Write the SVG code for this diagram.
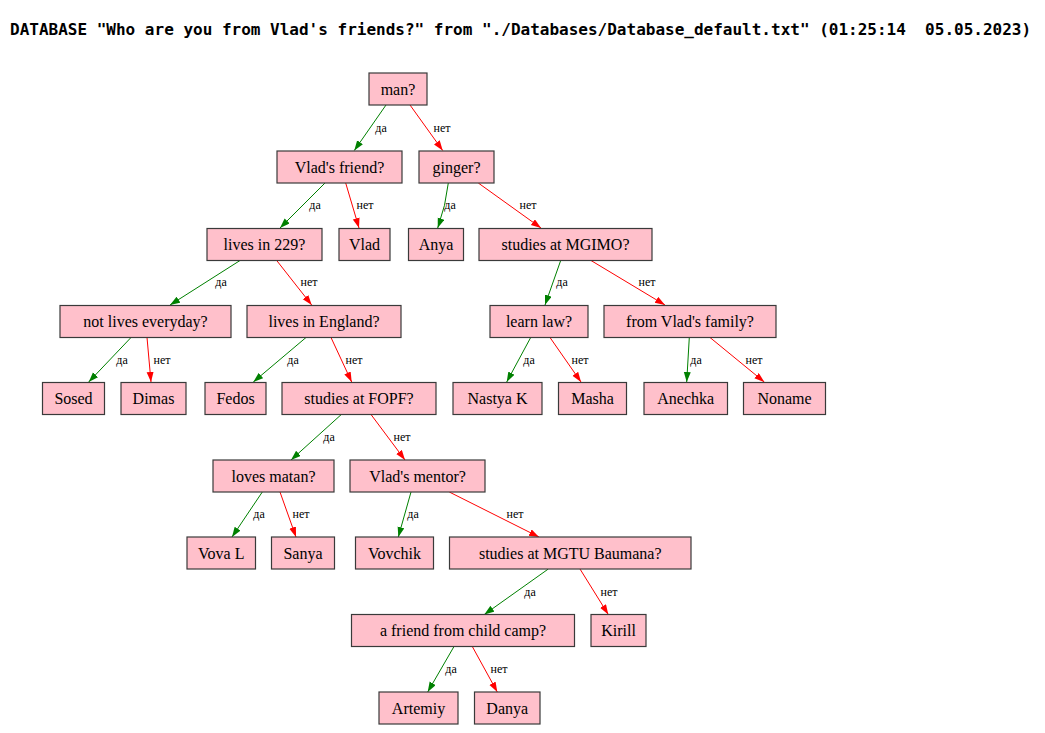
<svg xmlns="http://www.w3.org/2000/svg" width="1045" height="733" viewBox="0 0 1045 733">
<style>
.title{font-family:"DejaVu Sans Mono",monospace;font-weight:bold;font-size:16px;fill:#000}
.node rect{fill:#ffc0cb;stroke:#3a3a3a;stroke-width:1.2}
.node text{font-family:"Liberation Serif","Times New Roman",serif;font-size:16px;fill:#000;text-anchor:middle}
.yes{stroke:#008000;fill:none;stroke-width:1;marker-end:url(#ag)}
.no{stroke:#ff0000;fill:none;stroke-width:1;marker-end:url(#ar)}
.lbl{font-family:"Liberation Serif","Times New Roman",serif;font-size:12px;fill:#000;text-anchor:middle}
</style>
<defs>
<marker id="ag" markerUnits="userSpaceOnUse" markerWidth="10" markerHeight="8" refX="10" refY="3.5" orient="auto"><path d="M0,0 L10,3.5 L0,7 z" fill="#008000"/></marker>
<marker id="ar" markerUnits="userSpaceOnUse" markerWidth="10" markerHeight="8" refX="10" refY="3.5" orient="auto"><path d="M0,0 L10,3.5 L0,7 z" fill="#ff0000"/></marker>
</defs>
<rect width="1045" height="733" fill="#fff"/>
<text class="title" x="10" y="35" xml:space="preserve">DATABASE "Who are you from Vlad's friends?" from "./Databases/Database_default.txt" (01:25:14  05.05.2023)</text>

<g id="edges">
<path class="yes" d="M386,105 L354.3,150.5"/><text class="lbl" x="381" y="131.5">да</text>
<path class="no" d="M410,105 L442.7,150.5"/><text class="lbl" x="442" y="131.5">нет</text>
<path class="yes" d="M325,183 L280,228"/><text class="lbl" x="315" y="208.5">да</text>
<path class="no" d="M345.7,183 L359,228"/><text class="lbl" x="365" y="208.5">нет</text>
<path class="yes" d="M448.3,183 Q446,205 437.7,228"/><text class="lbl" x="450" y="208.5">да</text>
<path class="no" d="M478.3,183 L541,228"/><text class="lbl" x="528" y="208.5">нет</text>
<path class="yes" d="M240,260.5 L170,305"/><text class="lbl" x="221" y="286">да</text>
<path class="no" d="M276.7,260.5 L311.7,305"/><text class="lbl" x="309" y="286">нет</text>
<path class="yes" d="M131,337.5 L88.7,382"/><text class="lbl" x="122" y="363.5">да</text>
<path class="no" d="M147,337.5 L151,382"/><text class="lbl" x="162" y="363.5">нет</text>
<path class="yes" d="M306,337.5 L253.3,382"/><text class="lbl" x="293" y="363.5">да</text>
<path class="no" d="M331,337.5 L351.7,382"/><text class="lbl" x="354" y="363.5">нет</text>
<path class="yes" d="M560.7,260.5 L545,305"/><text class="lbl" x="562" y="286">да</text>
<path class="no" d="M591,260.5 L665,305"/><text class="lbl" x="647" y="286">нет</text>
<path class="yes" d="M530.7,337.5 L506.7,382"/><text class="lbl" x="529" y="363.5">да</text>
<path class="no" d="M550,337.5 L581,382"/><text class="lbl" x="580" y="363.5">нет</text>
<path class="yes" d="M689.3,337.5 L686.7,382"/><text class="lbl" x="696" y="363.5">да</text>
<path class="no" d="M710,337.5 L764.3,382"/><text class="lbl" x="754" y="363.5">нет</text>
<path class="yes" d="M341.3,414.5 L291,460"/><text class="lbl" x="329" y="440.5">да</text>
<path class="no" d="M371,414.5 L405,460"/><text class="lbl" x="402" y="440.5">нет</text>
<path class="yes" d="M262.3,492 L232,537"/><text class="lbl" x="259" y="517.5">да</text>
<path class="no" d="M280,492 L296,537"/><text class="lbl" x="301" y="517.5">нет</text>
<path class="yes" d="M411,492 L398.3,537"/><text class="lbl" x="413" y="517.5">да</text>
<path class="no" d="M449.3,492 L539,537"/><text class="lbl" x="515" y="517.5">нет</text>
<path class="yes" d="M548.3,569 L484.3,614.5"/><text class="lbl" x="530" y="595.5">да</text>
<path class="no" d="M580,569 L608.3,614.5"/><text class="lbl" x="609" y="595.5">нет</text>
<path class="yes" d="M454,646.5 L427.7,692"/><text class="lbl" x="451" y="672.5">да</text>
<path class="no" d="M472.3,646.5 L497.3,692"/><text class="lbl" x="499" y="672.5">нет</text>
</g>

<g id="n_man" class="node"><rect x="369" y="73" width="58" height="32"/><text x="398" y="94.5">man?</text></g>
<g id="n_vladfriend" class="node"><rect x="277" y="151" width="125" height="32"/><text x="339.5" y="172.5">Vlad's friend?</text></g>
<g id="n_ginger" class="node"><rect x="419" y="151" width="75" height="32"/><text x="456.5" y="172.5">ginger?</text></g>
<g id="n_lives229" class="node"><rect x="207" y="228.5" width="115" height="32"/><text x="264.5" y="250">lives in 229?</text></g>
<g id="n_vlad" class="node"><rect x="339" y="228.5" width="51" height="32"/><text x="364.5" y="250">Vlad</text></g>
<g id="n_anya" class="node"><rect x="408.5" y="228.5" width="55" height="32"/><text x="436" y="250">Anya</text></g>
<g id="n_mgimo" class="node"><rect x="479" y="228.5" width="173" height="32"/><text x="565.5" y="250">studies at MGIMO?</text></g>
<g id="n_notlives" class="node"><rect x="60" y="305.5" width="171" height="32"/><text x="145.5" y="327">not lives everyday?</text></g>
<g id="n_england" class="node"><rect x="247" y="305.5" width="154" height="32"/><text x="324" y="327">lives in England?</text></g>
<g id="n_learnlaw" class="node"><rect x="490" y="305.5" width="98" height="32"/><text x="539" y="327">learn law?</text></g>
<g id="n_family" class="node"><rect x="604" y="305.5" width="172" height="32"/><text x="690" y="327">from Vlad's family?</text></g>
<g id="n_sosed" class="node"><rect x="42.5" y="382.5" width="62" height="32"/><text x="73.5" y="404">Sosed</text></g>
<g id="n_dimas" class="node"><rect x="121" y="382.5" width="65" height="32"/><text x="153.5" y="404">Dimas</text></g>
<g id="n_fedos" class="node"><rect x="205" y="382.5" width="61" height="32"/><text x="235.5" y="404">Fedos</text></g>
<g id="n_fopf" class="node"><rect x="282" y="382.5" width="154" height="32"/><text x="359" y="404">studies at FOPF?</text></g>
<g id="n_nastya" class="node"><rect x="453" y="382.5" width="89" height="32"/><text x="497.5" y="404">Nastya K</text></g>
<g id="n_masha" class="node"><rect x="558.5" y="382.5" width="68" height="32"/><text x="592.5" y="404">Masha</text></g>
<g id="n_anechka" class="node"><rect x="644" y="382.5" width="83.5" height="32"/><text x="685.75" y="404">Anechka</text></g>
<g id="n_noname" class="node"><rect x="743.5" y="382.5" width="82" height="32"/><text x="784.5" y="404">Noname</text></g>
<g id="n_matan" class="node"><rect x="213" y="460" width="121" height="32"/><text x="273.5" y="481.5">loves matan?</text></g>
<g id="n_mentor" class="node"><rect x="350" y="460" width="135" height="32"/><text x="417.5" y="481.5">Vlad's mentor?</text></g>
<g id="n_voval" class="node"><rect x="187" y="537" width="68.5" height="32"/><text x="221.25" y="558.5">Vova L</text></g>
<g id="n_sanya" class="node"><rect x="271.5" y="537" width="63" height="32"/><text x="303" y="558.5">Sanya</text></g>
<g id="n_vovchik" class="node"><rect x="355.5" y="537" width="78" height="32"/><text x="394.5" y="558.5">Vovchik</text></g>
<g id="n_mgtu" class="node"><rect x="449.5" y="537" width="241.5" height="32"/><text x="570.25" y="558.5">studies at MGTU Baumana?</text></g>
<g id="n_camp" class="node"><rect x="351.5" y="614.5" width="223" height="32"/><text x="463" y="636">a friend from child camp?</text></g>
<g id="n_kirill" class="node"><rect x="591" y="614.5" width="55" height="32"/><text x="618.5" y="636">Kirill</text></g>
<g id="n_artemiy" class="node"><rect x="379" y="692" width="79" height="32"/><text x="418.5" y="713.5">Artemiy</text></g>
<g id="n_danya" class="node"><rect x="474.5" y="692" width="65.5" height="32"/><text x="507.25" y="713.5">Danya</text></g>
</svg>
